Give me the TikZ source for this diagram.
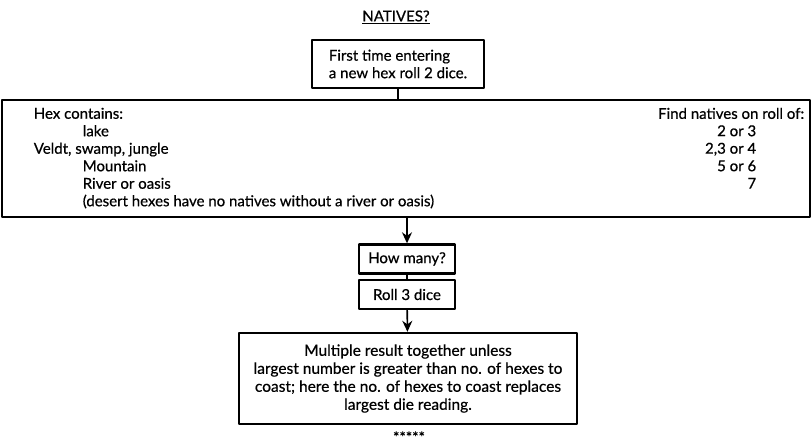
\documentclass[tikz,border=0pt]{standalone}
\usepackage{fontspec}
\setmainfont{Lato}[FakeBold=0.6]
\usetikzlibrary{arrows.meta}
\tikzset{
  box/.style={draw,line width=2.4pt,inner sep=0pt},
  arr/.style={-{Stealth[length=11pt,width=10pt]}}
}
\begin{document}
\begin{tikzpicture}[x=1pt,y=-1pt,line join=round,line width=1.6pt,font=\fontsize{15}{17.5}\selectfont]
	\useasboundingbox (0,0) rectangle (812,445);
	\node (title) at (396,17) {\underline{NATIVES?}};
	\node[box,minimum width=172pt,minimum height=48pt,align=left] (first) at (398,64) {First time entering\\a new hex roll 2 dice.};
	\node[box,minimum width=808pt,minimum height=117pt] (hex) at (406,158.5) {};
	% terrain column
	\node[anchor=north west,align=left,inner sep=0pt] (terrain) at (33,107) {Hex contains:\\\hspace*{49pt}lake\\Veldt, swamp, jungle\\\hspace*{49pt}Mountain\\\hspace*{49pt}River or oasis\\\hspace*{49pt}(desert hexes have no natives without a river or oasis)};
	% roll column
	\node[anchor=north east,inner sep=0pt] (find) at (805,107) {Find natives on roll of:};
	\node[anchor=north east,align=right,inner sep=0pt] (rolls) at (757,124.5) {2 or 3\\2,3 or 4\\5 or 6\\7};
	\node[box,minimum width=96pt,minimum height=29pt] (many) at (407,259) {How many?};
	\node[box,minimum width=96pt,minimum height=29pt] (roll) at (407,294.5) {Roll 3 dice};
	\node[box,minimum width=338pt,minimum height=91pt,align=center,font=\fontsize{15.5}{18}\selectfont] (result) at (408,378.5) {Multiple result together unless\\largest number is greater than no. of hexes to\\coast; here the no. of hexes to coast replaces\\largest die reading.};
	\node (stars) at (409,437) {*****};
	\draw (first.south) -- (first.south |- hex.north);
	\draw[arr] (many |- hex.south) -- (many.north);
	\draw (many) -- (roll);
	\draw[arr] (roll) -- (result);
\end{tikzpicture}
\end{document}
